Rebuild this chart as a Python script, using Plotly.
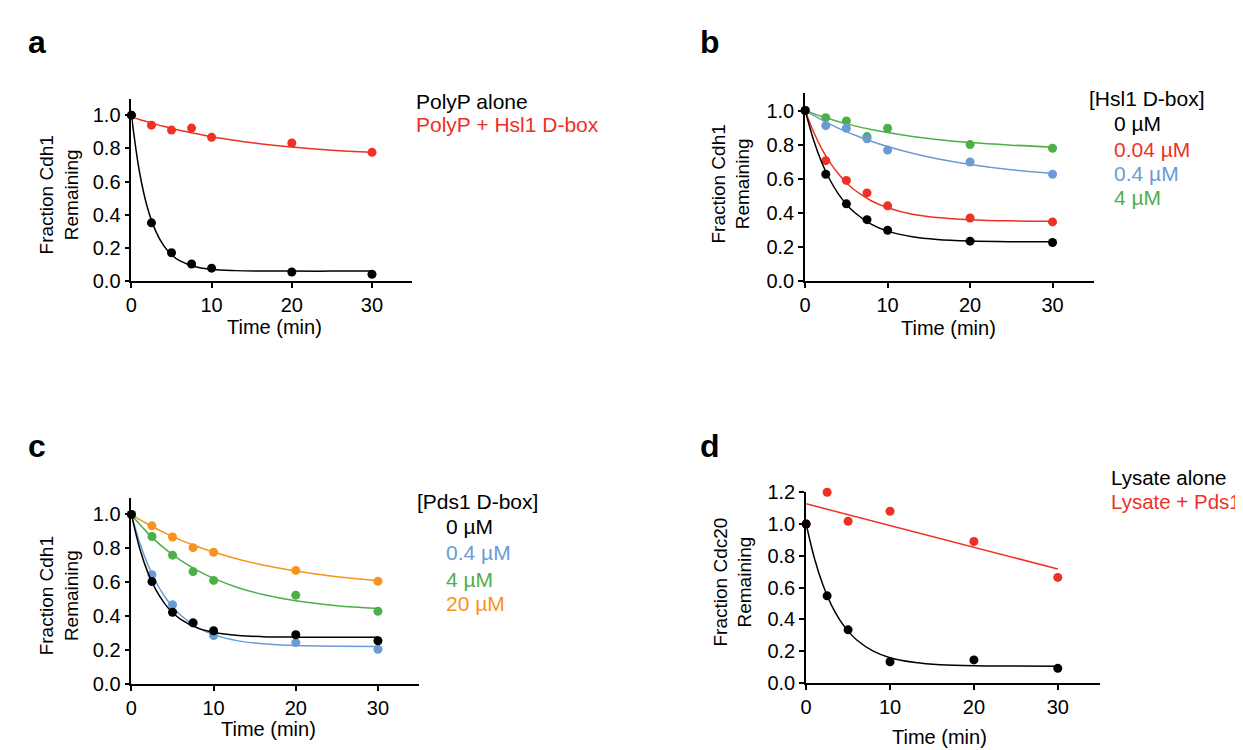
import plotly.graph_objects as go

W, H = 1243, 750
FONT = "Liberation Sans, Arial, sans-serif"

BLACK = "#000000"
RED = "#EE3124"
BLUE = "#6A9BD6"
GREEN = "#4EAE48"
ORANGE = "#F7941D"

# ---------- data ----------
time_pts = [0, 2.5, 5, 7.5, 10, 20, 30]
time_pts_d = [0, 2.5, 5, 10, 20, 30]
curve_t = [0, 1, 2, 3, 4, 5, 6, 8, 10, 13, 16, 20, 25, 30]

# panel a
a_polyp = [1.0, 0.351, 0.171, 0.103, 0.078, 0.055, 0.041]
a_hsl1 = [1.0, 0.940, 0.910, 0.922, 0.867, 0.832, 0.776]
a_polyp_fit = [1.0, 0.659, 0.442, 0.304, 0.215, 0.159, 0.123, 0.086, 0.070, 0.063, 0.061, 0.060, 0.060, 0.060]
a_hsl1_fit = [0.99, 0.974, 0.960, 0.946, 0.933, 0.921, 0.909, 0.889, 0.870, 0.847, 0.828, 0.808, 0.789, 0.776]

# panel b
b_0 = [1.0, 0.626, 0.453, 0.360, 0.298, 0.234, 0.226]
b_004 = [1.0, 0.706, 0.590, 0.517, 0.441, 0.370, 0.347]
b_04 = [1.0, 0.911, 0.896, 0.834, 0.768, 0.698, 0.626]
b_4 = [1.0, 0.958, 0.939, 0.847, 0.896, 0.800, 0.779]
b_0_fit = [1.0, 0.830, 0.697, 0.594, 0.513, 0.451, 0.402, 0.334, 0.293, 0.260, 0.244, 0.235, 0.231, 0.230]
b_004_fit = [1.0, 0.877, 0.777, 0.696, 0.631, 0.577, 0.534, 0.471, 0.430, 0.392, 0.373, 0.360, 0.353, 0.351]
b_04_fit = [1.0, 0.972, 0.945, 0.920, 0.897, 0.876, 0.856, 0.820, 0.789, 0.749, 0.717, 0.684, 0.653, 0.631]
b_4_fit = [1.0, 0.982, 0.965, 0.950, 0.936, 0.923, 0.910, 0.889, 0.871, 0.848, 0.830, 0.812, 0.797, 0.786]

# panel c
c_0 = [1.0, 0.604, 0.423, 0.360, 0.314, 0.290, 0.255]
c_04 = [1.0, 0.644, 0.467, 0.362, 0.286, 0.244, 0.204]
c_4 = [1.0, 0.870, 0.760, 0.663, 0.611, 0.524, 0.429]
c_20 = [1.0, 0.933, 0.867, 0.804, 0.777, 0.670, 0.606]
c_0_fit = [1.0, 0.801, 0.657, 0.553, 0.477, 0.421, 0.381, 0.331, 0.305, 0.286, 0.279, 0.276, 0.275, 0.275]
c_04_fit = [1.0, 0.834, 0.703, 0.600, 0.519, 0.455, 0.405, 0.334, 0.291, 0.254, 0.237, 0.226, 0.222, 0.221]
c_4_fit = [1.0, 0.942, 0.890, 0.843, 0.801, 0.763, 0.729, 0.670, 0.623, 0.568, 0.528, 0.491, 0.462, 0.445]
c_20_fit = [1.0, 0.970, 0.943, 0.917, 0.893, 0.870, 0.849, 0.811, 0.778, 0.736, 0.702, 0.666, 0.632, 0.609]

# panel d
d_lysate = [1.0, 0.548, 0.334, 0.133, 0.145, 0.092]
d_pds1 = [1.0, 1.20, 1.017, 1.080, 0.890, 0.664]
d_lysate_fit = [1.0, 0.781, 0.616, 0.491, 0.397, 0.326, 0.272, 0.200, 0.159, 0.129, 0.115, 0.108, 0.106, 0.105]
d_pds1_line_t = [0, 30]
d_pds1_line = [1.127, 0.717]

# ---------- layout geometry (pixels) ----------
panels = {
    # name: (x_left, x_right, y_bottom, y_top, ymax)
    "a": (118, 400, 270, 82, 1.1),
    "b": (795, 1085, 270, 76.7, 1.1),
    "c": (118, 407, 685, 493, 1.1),
    "d": (796, 1091, 684, 487.5, 1.2),
}

fig = go.Figure()


def px(x):
    return x / W


def py(y):
    return 1 - y / H


def add_series(idx, t, y, color, fit_t, fit_y, fit_shape="spline"):
    xa = "x" if idx == 1 else f"x{idx}"
    ya = "y" if idx == 1 else f"y{idx}"
    fig.add_trace(go.Scatter(x=fit_t, y=fit_y, mode="lines", line=dict(color=color, width=1.5, shape=fit_shape),
                             xaxis=xa, yaxis=ya, showlegend=False, hoverinfo="skip"))
    fig.add_trace(go.Scatter(x=t, y=y, mode="markers", marker=dict(color=color, size=9),
                             xaxis=xa, yaxis=ya, showlegend=False, cliponaxis=False))


# panel a
add_series(1, time_pts, a_hsl1, RED, curve_t, a_hsl1_fit)
add_series(1, time_pts, a_polyp, BLACK, curve_t, a_polyp_fit)
# panel b
add_series(2, time_pts, b_4, GREEN, curve_t, b_4_fit)
add_series(2, time_pts, b_04, BLUE, curve_t, b_04_fit)
add_series(2, time_pts, b_004, RED, curve_t, b_004_fit)
add_series(2, time_pts, b_0, BLACK, curve_t, b_0_fit)
# panel c
add_series(3, time_pts, c_20, ORANGE, curve_t, c_20_fit)
add_series(3, time_pts, c_4, GREEN, curve_t, c_4_fit)
add_series(3, time_pts, c_04, BLUE, curve_t, c_04_fit)
add_series(3, time_pts, c_0, BLACK, curve_t, c_0_fit)
# panel d
add_series(4, time_pts_d, d_pds1, RED, d_pds1_line_t, d_pds1_line, fit_shape="linear")
add_series(4, time_pts_d, d_lysate, BLACK, curve_t, d_lysate_fit)

axis_common = dict(showgrid=False, zeroline=False, showline=True, linecolor="black", linewidth=1.8,
                   ticks="outside", ticklen=5, tickwidth=1.5, tickcolor="black",
                   tickfont=dict(family=FONT, size=20, color="black"))

layout = dict(width=W, height=H, margin=dict(l=0, r=0, t=0, b=0),
              paper_bgcolor="white", plot_bgcolor="white", showlegend=False)

for i, key in enumerate(["a", "b", "c", "d"], start=1):
    xl, xr, yb, yt, ymax = panels[key]
    xname = "xaxis" if i == 1 else f"xaxis{i}"
    yname = "yaxis" if i == 1 else f"yaxis{i}"
    xref = "x" if i == 1 else f"x{i}"
    yref = "y" if i == 1 else f"y{i}"
    layout[xname] = dict(axis_common, domain=[px(xl), px(xr)], range=[0, 35], anchor=yref,
                         tickvals=[0, 10, 20, 30])
    yt_vals = [0, 0.2, 0.4, 0.6, 0.8, 1.0] + ([1.2] if ymax >= 1.2 else [])
    layout[yname] = dict(axis_common, domain=[py(yb), py(yt)], range=[0, ymax], anchor=xref,
                         tickvals=yt_vals, tickformat=".1f")

fig.update_layout(**layout)

annotations = []


def txt(text, x, y, size, color="black", xanchor="left", yanchor="middle", bold=False, angle=0):
    annotations.append(dict(text=f"<b>{text}</b>" if bold else text, x=px(x), y=py(y), xref="paper", yref="paper",
                            xanchor=xanchor, yanchor=yanchor, showarrow=False, textangle=angle,
                            font=dict(family=FONT, size=size, color=color)))


# panel letters
txt("a", 12, 24, 32, bold=True)
txt("b", 687, 24, 32, bold=True)
txt("c", 12, 440, 32, bold=True)
txt("d", 687, 440, 32, bold=True)

# axis titles
txt("Time (min)", 262, 317, 20, xanchor="center")
txt("Time (min)", 939, 318, 20, xanchor="center")
txt("Time (min)", 256, 731, 20, xanchor="center")
txt("Time (min)", 930, 740, 20, xanchor="center")
txt("Fraction Cdh1<br>Remaining", 45, 181, 19, xanchor="center", angle=-90)
txt("Fraction Cdh1<br>Remaining", 720, 170, 19, xanchor="center", angle=-90)
txt("Fraction Cdh1<br>Remaining", 45, 594, 19, xanchor="center", angle=-90)
txt("Fraction Cdc20<br>Remaining", 722, 580, 19, xanchor="center", angle=-90)

# legends
txt("PolyP alone", 402, 85, 21)
txt("PolyP + Hsl1 D-box", 402, 109, 21, color=RED)

txt("[Hsl1 D-box]", 1078, 82, 21)
txt("0 µM", 1103, 108, 21)
txt("0.04 µM", 1103, 134, 21, color=RED)
txt("0.4 µM", 1103, 159, 21, color=BLUE)
txt("4 µM", 1103, 184, 21, color=GREEN)

txt("[Pds1 D-box]", 403, 497, 21)
txt("0 µM", 432, 523, 21)
txt("0.4 µM", 432, 550, 21, color=BLUE)
txt("4 µM", 432, 577, 21, color=GREEN)
txt("20 µM", 432, 602, 21, color=ORANGE)

txt("Lysate alone", 1100, 472, 20.5)
txt("Lysate + Pds1", 1100, 497, 20.5, color=RED)

fig.update_layout(annotations=annotations)
fig.write_html("out.html")
